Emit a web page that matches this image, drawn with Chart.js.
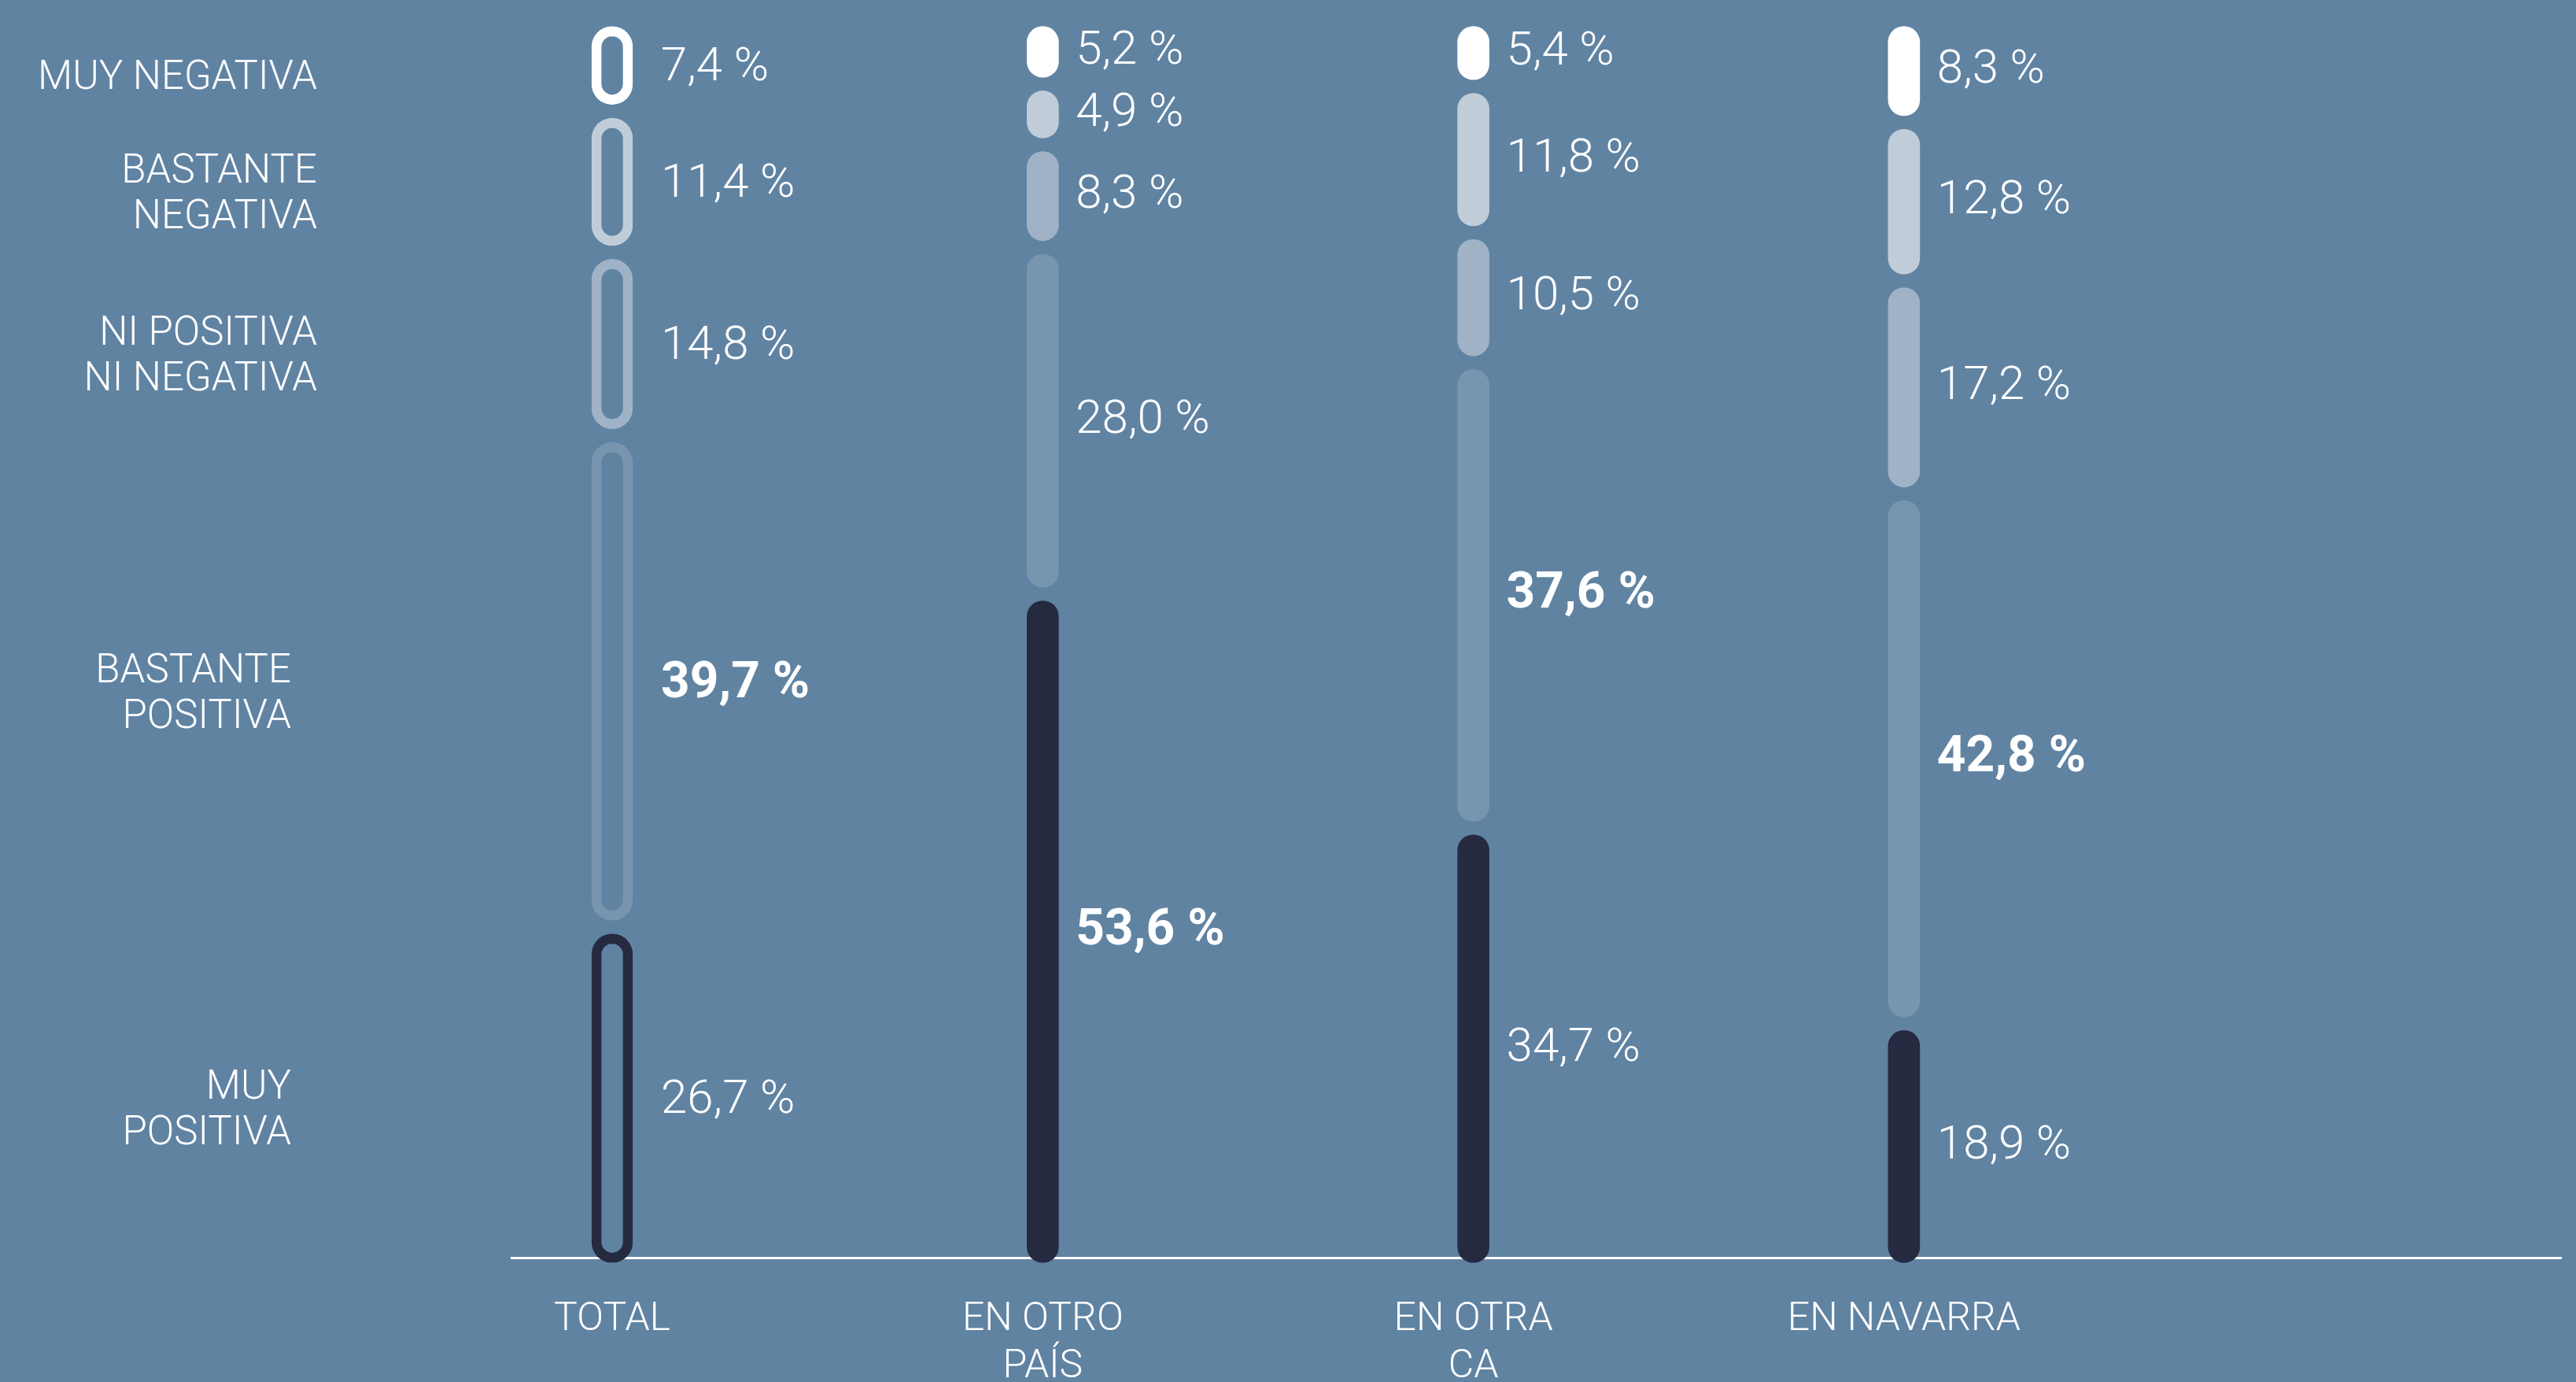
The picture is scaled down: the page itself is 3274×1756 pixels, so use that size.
<!DOCTYPE html>
<html lang="es">
<head>
<meta charset="utf-8">
<title>Valoración</title>
<script src="https://cdn.jsdelivr.net/npm/chart.js@4/dist/chart.umd.min.js"></script>
<style>
  html, body { margin: 0; padding: 0; background: #6083A2; }
  #wrap { width: 3274px; height: 1756px; }
  canvas { display: block; }
</style>
</head>
<body>
<div id="wrap"><canvas id="chart" width="3274" height="1756"></canvas></div>
<script>
// Groups along the x axis (multi-line tick labels)
const GROUPS = [['TOTAL'], ['EN OTRO', 'PAÍS'], ['EN OTRA', 'CA'], ['EN NAVARRA']];

// Answers, stacked from the bottom of each bar to the top
const RESPONSES = [
  ['MUY', 'POSITIVA'],
  ['BASTANTE', 'POSITIVA'],
  ['NI POSITIVA', 'NI NEGATIVA'],
  ['BASTANTE', 'NEGATIVA'],
  ['MUY NEGATIVA']
];

// Percentages per group, same order as RESPONSES
const TOTAL = [26.7, 39.7, 14.8, 11.4, 7.4];
const EN_OTRO_PAIS = [53.6, 28.0, 8.3, 4.9, 5.2];
const EN_OTRA_CA = [34.7, 37.6, 10.5, 11.8, 5.4];
const EN_NAVARRA = [18.9, 42.8, 17.2, 12.8, 8.3];

// ---- styling ----
const SEGMENT_COLORS = ['#252A40', '#7895B0', '#A0B3C6', '#C0CDD8', '#FFFFFF'];
const FONT = 'Roboto, "Noto Sans", sans-serif';
const GAP = 1.1;             // empty space between stacked segments (value units)
const BOTTOM_OVERHANG = 0.4; // bars poke slightly below the baseline
const RESPONSE_LABEL_RIGHT = [370, 370, 403, 403, 403];

const GROUP_VALUES = [TOTAL, EN_OTRO_PAIS, EN_OTRA_CA, EN_NAVARRA];

// floating [from, to] ranges for every segment of a group
function segmentRanges(values) {
  let cum = 0;
  return values.map((v, i) => {
    const lo = i === 0 ? -BOTTOM_OVERHANG : cum + GAP / 2;
    cum += v;
    return [lo, cum - GAP / 2];
  });
}
const GROUP_RANGES = GROUP_VALUES.map(segmentRanges);
const GROUP_MAX = GROUP_VALUES.map(vals => Math.max(...vals));

const datasets = [];
RESPONSES.forEach((resp, r) => {
  // TOTAL: outlined segments
  datasets.push({
    label: resp.join(' '),
    kind: 'outline',
    data: [{ x: 0, y: GROUP_RANGES[0][r], v: TOTAL[r], max: GROUP_MAX[0] }],
    backgroundColor: 'rgba(0,0,0,0)',
    borderColor: SEGMENT_COLORS[r],
    borderWidth: 12,
    borderRadius: 26,
    borderSkipped: false,
    barThickness: 52,
    grouped: false,
    clip: false
  });
  // remaining groups: solid segments
  datasets.push({
    label: resp.join(' '),
    kind: 'solid',
    data: [1, 2, 3].map(g => ({ x: g, y: GROUP_RANGES[g][r], v: GROUP_VALUES[g][r], max: GROUP_MAX[g] })),
    backgroundColor: SEGMENT_COLORS[r],
    borderWidth: 0,
    borderRadius: 20,
    borderSkipped: false,
    barThickness: 40,
    grouped: false,
    clip: false
  });
});

const fmt = v => v.toFixed(1).replace('.', ',') + ' %';

// percentage beside every segment, answer names beside the TOTAL bar
const segmentLabels = {
  id: 'segmentLabels',
  afterDatasetsDraw(chart) {
    const ctx = chart.ctx;
    ctx.save();
    ctx.fillStyle = '#FFFFFF';
    ctx.textBaseline = 'middle';
    chart.data.datasets.forEach((ds, di) => {
      const meta = chart.getDatasetMeta(di);
      const r = Math.floor(di / 2);
      meta.data.forEach((el, i) => {
        const pt = ds.data[i];
        const cy = (el.y + el.base) / 2;
        const bold = pt.v === pt.max;
        ctx.textAlign = 'left';
        ctx.font = (bold ? '700 64px ' : '300 60px ') + FONT;
        const dx = ds.kind === 'outline' ? 62 : 42;
        ctx.fillText(fmt(pt.v), el.x + dx, cy + (ds.kind === 'outline' ? 4 : 0));
        if (ds.kind === 'outline') {
          const lines = RESPONSES[r];
          const lh = 58;
          ctx.textAlign = 'right';
          ctx.font = '300 51px ' + FONT;
          const top = cy + 17 - (lines.length - 1) * lh / 2;
          lines.forEach((ln, k) => ctx.fillText(ln, RESPONSE_LABEL_RIGHT[r], top + k * lh));
        }
      });
    });
    ctx.restore();
  }
};

new Chart(document.getElementById('chart'), {
  type: 'bar',
  data: { datasets },
  options: {
    responsive: false,
    devicePixelRatio: 1,
    animation: false,
    events: [],
    layout: { padding: { left: 650, right: 19, top: 25, bottom: 0 } },
    plugins: { legend: { display: false }, tooltip: { enabled: false } },
    scales: {
      x: {
        type: 'linear',
        offset: false,
        min: -0.234,
        max: 4.526,
        grid: { display: false, drawTicks: false },
        border: { display: true, color: '#FFFFFF', width: 3 },
        afterBuildTicks: s => { s.ticks = GROUPS.map((g, i) => ({ value: i })); },
        afterFit: s => { s.height = 158; },
        ticks: {
          autoSkip: false,
          maxRotation: 0,
          padding: 49,
          color: '#FFFFFF',
          font: { family: FONT, size: 50, weight: '300', lineHeight: 1.2 },
          callback: v => GROUPS[v] || ''
        }
      },
      y: {
        type: 'linear',
        min: 0,
        max: 100,
        display: false
      }
    }
  },
  plugins: [segmentLabels]
});
</script>
</body>
</html>
